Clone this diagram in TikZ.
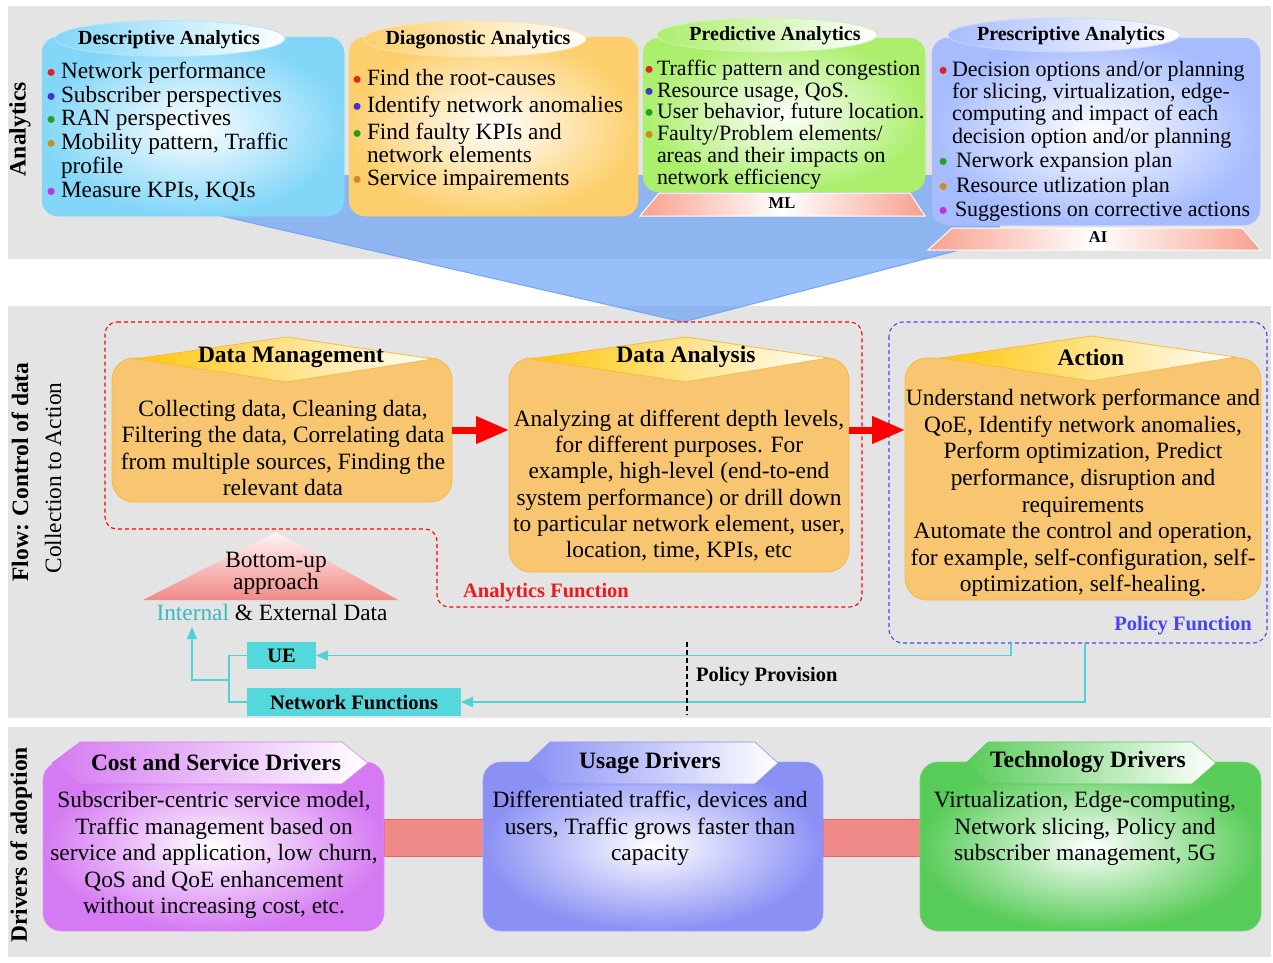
\documentclass[tikz,border=0pt]{standalone}
\usepackage{fontspec}
\setmainfont{Liberation Serif}
\usetikzlibrary{arrows.meta,shapes.geometric}
\definecolor{bg}{HTML}{E4E4E4}
\definecolor{cyanB}{HTML}{82D6F8}
\definecolor{orangeB}{HTML}{FCCF6C}
\definecolor{greenB}{HTML}{ABEF6C}
\definecolor{blueB}{HTML}{A6BCFF}
\definecolor{mgold}{HTML}{F8C670}
\definecolor{mgoldE}{HTML}{F7B845}
\definecolor{dgold}{HTML}{FFC60A}
\definecolor{purpB}{HTML}{D57AF2}
\definecolor{violB}{HTML}{8A90F4}
\definecolor{grnD}{HTML}{58CC58}
\definecolor{redbar}{HTML}{F08A88}
\definecolor{redbarE}{HTML}{E86464}
\definecolor{tealB}{HTML}{55D8DC}
\definecolor{tealL}{HTML}{4FD2D8}
\definecolor{tealT}{HTML}{3CB8BE}
\definecolor{salmon}{HTML}{F8A08E}
\definecolor{funnel}{HTML}{5A99F7}
\definecolor{funnelE}{HTML}{6FA6F8}
\definecolor{bRed}{HTML}{E52222}
\definecolor{bBlue}{HTML}{4433CC}
\definecolor{bGreen}{HTML}{22A022}
\definecolor{bOrange}{HTML}{D08A20}
\definecolor{bPurple}{HTML}{C030E0}
\definecolor{afRed}{HTML}{F01818}
\definecolor{pfBlue}{HTML}{4646F0}
\newcommand\fsz[2]{\fontsize{#1}{#2}\selectfont}
\newcommand\bul[2]{\makebox[#2][l]{\raisebox{-4pt}{\textcolor{#1}{\fsz{29}{29}•}}}}
\begin{document}
\begin{tikzpicture}[x=1pt,y=-1pt,
  every node/.style={inner sep=0pt, outer sep=0pt},
  abox/.style={draw=#1, line width=0.5pt, rounded corners=16pt, inner color=white, outer color=#1},
  ttlell/.style={draw=#1!60!white, line width=0.8pt, left color=#1, right color=white},
  trap/.style={draw=white, line width=1pt, left color=salmon, right color=salmon, middle color=white},
  mbox/.style={draw=mgoldE, line width=0.8pt, fill=mgold, rounded corners=22pt},
  dmd/.style={draw=mgoldE, line width=0.8pt, left color=dgold, right color=white},
  dbox/.style={draw=#1!80!white, line width=0.6pt, rounded corners=18pt, inner color=white, outer color=#1},
  dtab/.style={draw=#1, line width=0.6pt, left color=#1, right color=white},
  ttl/.style={font=\bfseries\fsz{20}{22}},
  htl/.style={font=\bfseries\fsz{23.5}{26}},
  body/.style={font=\fsz{23.4}{26.5}, align=center},
  side/.style={rotate=90, font=\bfseries\fsz{23.5}{26}},
  tealbox/.style={fill=tealB, font=\bfseries\fsz{20.5}{22}},
  lbl/.style={font=\bfseries\fsz{20.5}{22}},
  tline/.style={draw=tealL, line width=1.8pt},
  tarr/.style={tline, -{Triangle[length=12pt,width=10pt]}},
  rarr/.style={draw=red, line width=7pt, -{Triangle[length=33pt,width=26pt]}}
]
\useasboundingbox (0,0) rectangle (1273,962);
\fill[white] (0,0) rectangle (1273,962);
% section backgrounds
\fill[bg] (8,6) rectangle (1271,259);
\fill[bg] (8,306) rectangle (1271,718);
\fill[bg] (8,727) rectangle (1271,957);
% funnel
\fill[funnel, opacity=0.62] (683,322) -- (217,215) -- (217,175) -- (1000,175) -- (1000,240) -- (963,249) -- cycle;
\draw[funnelE, line width=1pt] (217,215) -- (683,322) -- (963,249);
% side labels
\node[side] (lA) at (20,129) {Analytics};
\node[side] (lF) at (20,472) {Flow: Control of data};
\node[rotate=90, font=\fsz{23.4}{26}] (lC) at (53,478) {Collection to Action};
\node[side] (lD) at (21,845) {Drivers of adoption};
% analytics boxes
\node[abox=cyanB, minimum width=302pt, minimum height=179pt] (desc) at (193,126.5) {};
\node[abox=orangeB, minimum width=289pt, minimum height=179pt] (diag) at (493.5,126.5) {};
\node[abox=greenB, minimum width=282pt, minimum height=154pt] (pred) at (784,115) {};
\node[abox=blueB, minimum width=328pt, minimum height=187pt] (presc) at (1096,131.5) {};
% title ellipses
\path[ttlell=cyanB] (170,38.5) ellipse [x radius=115pt, y radius=18pt];
\path[ttlell=orangeB] (475,39) ellipse [x radius=111pt, y radius=18pt];
\path[ttlell=greenB] (767,35) ellipse [x radius=110pt, y radius=17pt];
\path[ttlell=blueB] (1064,35) ellipse [x radius=116pt, y radius=17pt];
\node[ttl] (tDesc) at (169,40) {Descriptive Analytics};
\node[ttl] (tDiag) at (478,40) {Diagonostic Analytics};
\node[ttl] (tPred) at (775,36) {Predictive Analytics};
\node[ttl] (tPresc) at (1071,36) {Prescriptive Analytics};
% ML / AI
\path[trap] (640,216) -- (659,193) -- (910,193) -- (925,216) -- cycle;
\path[trap] (928,250) -- (952,228) -- (1242,228) -- (1261,250) -- cycle;
\node[font=\bfseries\fsz{16.5}{18}] (ml) at (782,203) {ML};
\node[font=\bfseries\fsz{16.5}{18}] (ai) at (1098,237) {AI};
% lists
\node[anchor=west, align=left, font=\fsz{23.3}{23.8}] (lDesc) at (46,131.5) {%
\bul{bRed}{15pt}Network performance\\
\bul{bBlue}{15pt}Subscriber perspectives\\
\bul{bGreen}{15pt}RAN perspectives\\
\bul{bOrange}{15pt}Mobility pattern, Traffic\\
\hspace*{15pt}profile\\
\bul{bPurple}{15pt}Measure KPIs, KQIs};
\node[anchor=west, align=left, font=\fsz{23.3}{23}] (lDiag) at (352,129.5) {%
\bul{bRed}{15pt}Find the root-causes\\[4pt]
\bul{bBlue}{15pt}Identify network anomalies\\[4pt]
\bul{bGreen}{15pt}Find faulty KPIs and\\
\hspace*{15pt}network elements\\
\bul{bOrange}{15pt}Service impairements};
\node[anchor=west, align=left, font=\fsz{21.9}{21.8}] (lPred) at (644,124.5) {%
\bul{bRed}{13pt}Traffic pattern and congestion\\
\bul{bBlue}{13pt}Resource usage, QoS.\\
\bul{bGreen}{13pt}User behavior, future location.\\
\bul{bOrange}{13pt}Faulty/Problem elements/\\
\hspace*{13pt}areas and their impacts on\\
\hspace*{13pt}network efficiency};
\node[anchor=west, align=left, font=\fsz{22}{22.4}] (lPresc) at (938,141) {%
\bul{bRed}{14pt}Decision options and/or planning\\
\hspace*{14pt}for slicing, virtualization, edge-\\
\hspace*{14pt}computing and impact of each\\
\hspace*{14pt}decision option and/or planning\\[2pt]
\bul{bGreen}{18pt}Nerwork expansion plan\\[2pt]
\bul{bOrange}{18pt}Resource utlization plan\\[2pt]
\bul{bPurple}{17pt}Suggestions on corrective actions};
% flow section outlines
\draw[red, line width=1.1pt, dash pattern=on 4pt off 3pt, rounded corners=12pt]
  (105,322) -- (862,322) -- (862,607) -- (437,607) -- (437,529) -- (105,529) -- cycle;
\draw[pfBlue, line width=1.1pt, dash pattern=on 4pt off 3pt, rounded corners=14pt]
  (889,322) rectangle (1267,643);
\node[lbl, text=afRed] (af) at (546,593) {Analytics Function};
\node[lbl, text=pfBlue] (pf) at (1183,626) {Policy Function};
% flow boxes
\node[mbox, minimum width=340pt, minimum height=144pt] (dm) at (282,430) {};
\node[mbox, minimum width=340pt, minimum height=214pt] (da) at (679,465) {};
\node[mbox, minimum width=356pt, minimum height=242pt] (act) at (1083,479) {};
\path[dmd] (135,359) -- (287,337) -- (433,359) -- (287,382) -- cycle;
\path[dmd] (530,359) -- (686,337) -- (828,358) -- (686,382) -- cycle;
\path[dmd] (941,358) -- (1091,336) -- (1236,357) -- (1091,381) -- cycle;
\node[htl] (tDm) at (291,357) {Data Management};
\node[htl] (tDa) at (686,357) {Data Analysis};
\node[htl] (tAct) at (1091,357) {Action};
\node[body] (xDm) at (283,448) {Collecting data, Cleaning data,\\Filtering the data, Correlating data\\from multiple sources, Finding the\\relevant data};
\node[body, font=\fsz{23.4}{26.2}] (xDa) at (679,485.5) {Analyzing at different depth levels,\\for different purposes. For\\example, high-level (end-to-end\\system performance) or drill down\\to particular network element, user,\\location, time, KPIs, etc};
\node[body, font=\fsz{23.4}{26.6}] (xAct) at (1083,493) {Understand network performance and\\QoE, Identify network anomalies,\\Perform optimization, Predict\\performance, disruption and\\requirements\\Automate the control and operation,\\for example, self-configuration, self-\\optimization, self-healing.};
\draw[rarr] (dm.east) -- (da.west |- dm.east);
\draw[rarr] (da.east |- dm.east) -- (act.west |- dm.east);
% bottom-up
\path[top color=red!4!white, bottom color=redbar] (143,600) -- (276,532) -- (398,600) -- cycle;
\node[body, font=\fsz{23.4}{21}] (bu) at (276,573.5) {Bottom-up\\approach};
\node[font=\fsz{23.3}{24}] (ied) at (272,613) {\textcolor{tealT}{Internal} \& External Data};
% teal boxes and lines
\node[tealbox, minimum width=69pt, minimum height=27pt] (ue) at (281.5,655.5) {UE};
\node[tealbox, minimum width=214pt, minimum height=28pt] (nf) at (354,702) {Network Functions};
\coordinate (pu) at (1011,643);
\coordinate (pn) at (1085,643);
\coordinate (jn) at (229,680);
\coordinate (it) at (192,627);
\draw[tarr] (pu) |- (ue.east);
\draw[tarr] (pn) |- (nf.east);
\draw[tline] (ue.west) -| (jn) |- (nf.west);
\draw[tarr] (jn) -| (it);
\coordinate (ppT) at (687,642);
\coordinate (ppB) at (687,715);
\draw[black, line width=1.2pt, dash pattern=on 5pt off 3pt] (ppT) -- (ppB);
\node[anchor=west, lbl] (pp) at (696,677) {Policy Provision};
% drivers
\fill[redbar, draw=redbarE, line width=0.8pt] (384,819) rectangle (483,856);
\fill[redbar, draw=redbarE, line width=0.8pt] (823,819) rectangle (920,856);
\node[dbox=purpB, minimum width=341pt, minimum height=169pt] (cost) at (213.5,846.5) {};
\node[dbox=violB, minimum width=340pt, minimum height=169pt] (usage) at (653,846.5) {};
\node[dbox=grnD, minimum width=341pt, minimum height=169pt] (tech) at (1090.5,846.5) {};
\path[dtab=purpB] (52,763) -- (80,742) -- (342,742) -- (368,763) -- (342,784) -- (80,784) -- cycle;
\path[dtab=violB] (528,763) -- (550,742) -- (755,742) -- (778,763) -- (755,784) -- (550,784) -- cycle;
\path[dtab=grnD] (966,763) -- (988,742) -- (1192,742) -- (1216,763) -- (1192,784) -- (988,784) -- cycle;
\node[htl] (tCost) at (216,762) {Cost and Service Drivers};
\node[htl] (tUsage) at (650,763) {Usage Drivers};
\node[htl] (tTech) at (1088,762) {Technology Drivers};
\node[body] (xCost) at (214,855) {Subscriber-centric service model,\\Traffic management based on\\service and application, low churn,\\QoS and QoE enhancement\\without increasing cost, etc.};
\node[body] (xUsage) at (650,828.5) {Differentiated traffic, devices and\\users, Traffic grows faster than\\capacity};
\node[body] (xTech) at (1085,828.5) {Virtualization, Edge-computing,\\Network slicing, Policy and\\subscriber management, 5G};
\end{tikzpicture}
\end{document}
